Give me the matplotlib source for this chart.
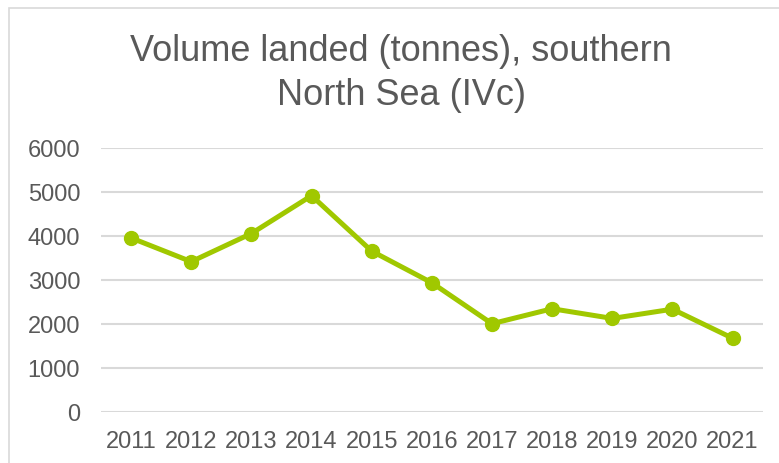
import matplotlib.pyplot as plt
from matplotlib.patches import Rectangle

plt.rcParams['font.family'] = ['Liberation Sans', 'DejaVu Sans']

# data
years = ['2011', '2012', '2013', '2014', '2015', '2016', '2017', '2018', '2019', '2020', '2021']
volume = [3950, 3410, 4050, 4910, 3650, 2930, 2000, 2340, 2120, 2330, 1670]
y_ticks = [0, 1000, 2000, 3000, 4000, 5000, 6000]

TEXT = '#595959'
GRID = '#D9D9D9'
LINE = '#A0C800'

W, H = 779, 464
fig = plt.figure(figsize=(W / 100, H / 100), dpi=100)

# chart frame (cropped on the right and bottom)
fig.patches.append(Rectangle((9 / W, -0.1), 1.2, 1 - 9 / H + 0.1, transform=fig.transFigure,
                             fill=False, edgecolor='#D9D9D9', linewidth=1.2))

ax = fig.add_axes([101 / W, (H - 412.7) / H, 661.7 / W, 264 / H])
x = list(range(len(years)))
ax.plot(x, volume, color=LINE, linewidth=3.6, marker='o', markersize=10,
        solid_capstyle='round', zorder=3)

ax.set_xlim(-0.5, len(years) - 0.5)
ax.set_ylim(0, 6000)
ax.set_yticks(y_ticks)
ax.set_xticks(x)
ax.set_xticklabels(years)
ax.grid(True, axis='y', color=GRID, linewidth=1.5)
ax.set_axisbelow(True)
for s in ax.spines.values():
    s.set_visible(False)
ax.tick_params(axis='both', length=0, labelsize=17, labelcolor=TEXT)
ax.tick_params(axis='y', pad=15)
ax.tick_params(axis='x', pad=13)

fig.text(401 / W, 1 - 73.5 / H, 'Volume landed (tonnes), southern\nNorth Sea (IVc)',
         ha='center', va='center', fontsize=26, color=TEXT, linespacing=1.3)

fig.savefig('out.png', dpi=100)
